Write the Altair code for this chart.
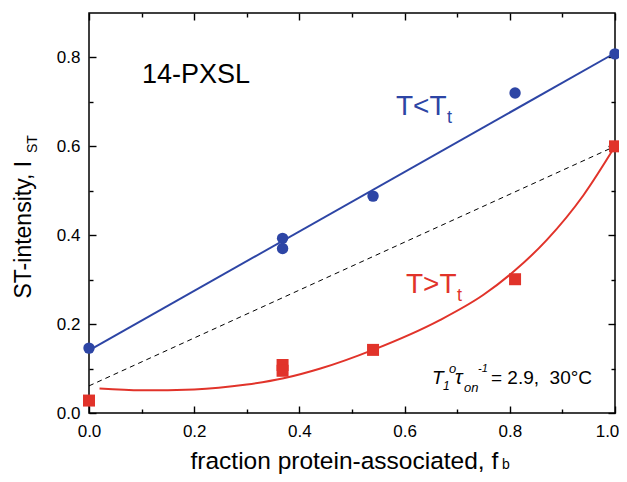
import altair as alt
import pandas as pd

# ---------------- data ----------------
blue_f = [0.0, 0.368, 0.368, 0.54, 0.81, 1.0]
blue_I = [0.146, 0.393, 0.370, 0.488, 0.720, 0.808]

red_f = [0.0, 0.368, 0.368, 0.54, 0.81, 1.0]
red_I = [0.028, 0.108, 0.095, 0.142, 0.301, 0.600]

blue_fit_f = [0.0, 1.0]
blue_fit_I = [0.141, 0.810]

red_fit_f = [0.02, 0.10, 0.20, 0.30, 0.37, 0.44, 0.54, 0.667, 0.75, 0.81, 0.87, 0.94, 1.0]
red_fit_I = [0.055, 0.051, 0.053, 0.064, 0.078, 0.100, 0.142, 0.209, 0.266, 0.321, 0.389, 0.490, 0.600]

diag_f = [0.0, 1.0]
diag_I = [0.061, 0.600]

x_major = [0.0, 0.2, 0.4, 0.6, 0.8, 1.0]
x_minor = [0.1, 0.3, 0.5, 0.7, 0.9]
y_major = [0.0, 0.2, 0.4, 0.6, 0.8]
y_minor = [0.1, 0.3, 0.5, 0.7]

# ---------------- styling ----------------
BLUE = "#2d45a5"
RED = "#e1332a"
FONT = "Liberation Sans"

blue_df = pd.DataFrame({"f": blue_f, "I": blue_I})
red_df = pd.DataFrame({"f": red_f, "I": red_I})
bfit_df = pd.DataFrame({"f": blue_fit_f, "I": blue_fit_I})
rfit_df = pd.DataFrame({"f": red_fit_f, "I": red_fit_I})
diag_df = pd.DataFrame({"f": diag_f, "I": diag_I})
one = pd.DataFrame({"k": [0]})

xscale = alt.Scale(domain=[0, 1], nice=False, zero=False)
yscale = alt.Scale(domain=[0, 0.9], nice=False, zero=False)

common = dict(grid=False, domain=False, tickColor="black", tickWidth=1.4,
              labelFont=FONT, labelFontSize=17, labelColor="black",
              labelFlush=False, labelOverlap=False)


def tick_axis(orient, values, size, labels=False, **kw):
    args = dict(common)
    args.update(orient=orient, values=values, tickSize=size, offset=-size,
                labels=labels)
    if "title" not in kw:
        args["title"] = ""
    args.update(kw)
    return alt.Axis(**args)


ax_bottom = tick_axis(
    "bottom", x_major, 7, labels=True, format=".1f", labelPadding=10,
    labelOffset={"condition": {"test": "datum.value >= 0.99", "value": -8}, "value": 0},
    title="fraction protein-associated, f", titleFont=FONT, titleFontSize=24.5,
    titleFontWeight="normal", titleColor="black", titleAlign="left",
    titleBaseline="alphabetic", titleX=101, titleY=62)
ax_left = tick_axis(
    "left", y_major, 7, labels=True, format=".1f", labelPadding=9,
    title="ST-intensity, I", titleFont=FONT, titleFontSize=23,
    titleFontWeight="normal", titleColor="black", titleAngle=270,
    titleAlign="left", titleBaseline="alphabetic", titleX=-66, titleY=285)
ax_top = tick_axis("top", x_major, 7)
ax_right = tick_axis("right", y_major, 7)
ax_bottom_minor = tick_axis("bottom", x_minor, 4)
ax_left_minor = tick_axis("left", y_minor, 4)
ax_top_minor = tick_axis("top", x_minor, 4)
ax_right_minor = tick_axis("right", y_minor, 4)


def X(axis):
    return alt.X("f:Q", scale=xscale, axis=axis)


def Y(axis):
    return alt.Y("I:Q", scale=yscale, axis=axis)


diag = alt.Chart(diag_df).mark_line(color="black", strokeWidth=1, strokeDash=[5, 4]).encode(
    x=X(ax_bottom), y=Y(ax_left))
bfit = alt.Chart(bfit_df).mark_line(color=BLUE, strokeWidth=2).encode(
    x=X(ax_top), y=Y(ax_right))
rfit = alt.Chart(rfit_df).mark_line(color=RED, strokeWidth=2, interpolate="monotone").encode(
    x=X(ax_bottom_minor), y=Y(ax_left_minor))
bpts = alt.Chart(blue_df).mark_circle(size=130, color=BLUE, opacity=1).encode(
    x=X(ax_top_minor), y=Y(ax_right_minor))
rpts = alt.Chart(red_df).mark_square(size=144, color=RED, opacity=1).encode(
    x=X(None), y=Y(None))


def label(text, x, y, size, color="black", italic=False, angle=0):
    kw = dict(font=FONT, fontSize=size, color=color, align="left",
              baseline="alphabetic")
    if italic:
        kw["fontStyle"] = "italic"
    if angle:
        kw["angle"] = angle
    return alt.Chart(one).mark_text(**kw).encode(
        x=alt.value(x), y=alt.value(y), text=alt.value(text))


texts = [
    label("14-PXSL", 53, 70, 27),
    label("T<T", 307, 102, 28, BLUE),
    label("t", 358, 110, 18, BLUE),
    label("T>T", 317, 280, 28, RED),
    label("t", 368, 288, 18, RED),
    label("T", 343, 371, 19, italic=True),
    label("1", 354, 377, 12, italic=True),
    label("o", 360, 360, 13, italic=True),
    label("τ", 366, 371, 20, italic=True),
    label("on", 375, 379, 13, italic=True),
    label("-1", 389, 359, 11, italic=True),
    label("= 2.9,\u00a0\u00a030°C", 402, 371, 19),
    label("b", 413, 456, 14),
    label("ST", -52, 140, 14, angle=270),
]

chart = alt.layer(diag, bfit, rfit, bpts, rpts, *texts).resolve_axis(
    x="independent", y="independent"
).properties(
    width=526, height=400,
    autosize=alt.AutoSizeParams(type="none"),
    padding={"left": 81, "top": 5, "right": 4, "bottom": 61},
).configure_view(stroke="black", strokeWidth=1.5)

chart.save("out.html", embed_options={"renderer": "svg", "actions": False})
